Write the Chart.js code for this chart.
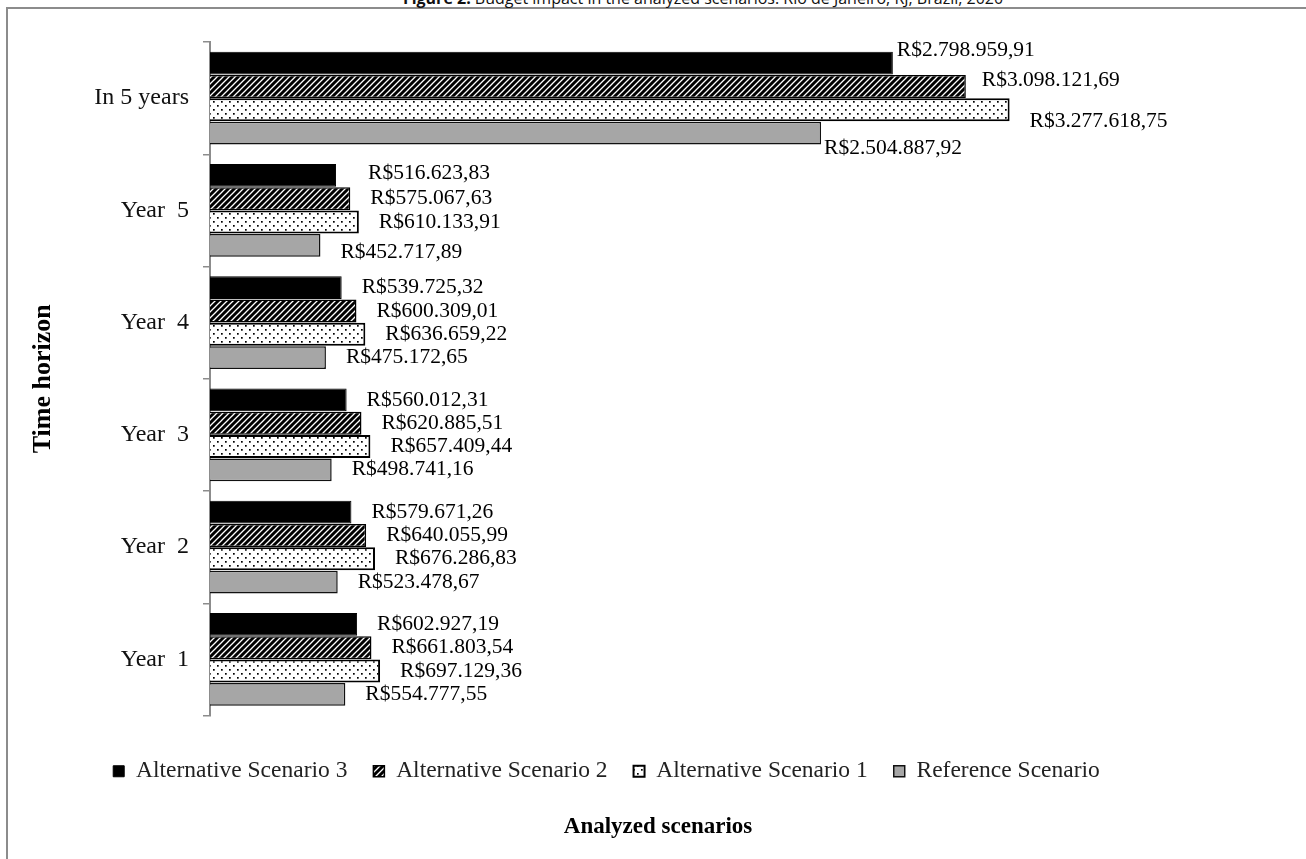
<!DOCTYPE html>
<html>
<head>
<meta charset="utf-8">
<script src="https://cdn.jsdelivr.net/npm/chart.js@4"></script>
<style>
  body { margin: 0; background: #fff; }
  #wrap { position: relative; width: 1306px; height: 859px; overflow: hidden; }
  #frame { position: absolute; left: 6px; top: 7px; width: 1310px; height: 860px;
    border-top: 2px solid #8c8c8c; border-left: 2px solid #8c8c8c; }
  #fig { position: absolute; top: -12px; left: 0; width: 1406px; text-align: center;
    font: 16px "Open Sans", sans-serif; line-height: 20px; color: #111; white-space: nowrap; }
  #xtitle { position: absolute; left: 538px; width: 240px; top: 813px; text-align: center;
    font: bold 23px "Liberation Serif", serif; color: #000; }
  canvas { position: absolute; left: 0; top: 0; }
</style>
</head>
<body>
<div id="wrap">
  <div id="frame"></div>
  <div id="fig"><b>Figure 2.</b> Budget impact in the analyzed scenarios. Rio de Janeiro, RJ, Brazil, 2020</div>
  <canvas id="myChart" width="1306" height="859"></canvas>
  <div id="xtitle">Analyzed scenarios</div>
</div>
<script>
var periods = ["In 5 years", "Year  5", "Year  4", "Year  3", "Year  2", "Year  1"];
var alt3 = [2798959.91, 516623.83, 539725.32, 560012.31, 579671.26, 602927.19];
var alt2 = [3098121.69, 575067.63, 600309.01, 620885.51, 640055.99, 661803.54];
var alt1 = [3277618.75, 610133.91, 636659.22, 657409.44, 676286.83, 697129.36];
var ref = [2504887.92, 452717.89, 475172.65, 498741.16, 523478.67, 554777.55];

// fills
function makeHatch() {
  var c = document.createElement("canvas");
  c.width = 6; c.height = 6;
  var x = c.getContext("2d");
  x.fillStyle = "#000";
  x.fillRect(0, 0, 6, 6);
  x.strokeStyle = "#fff";
  x.lineWidth = 1.3;
  x.beginPath();
  x.moveTo(-3, 3); x.lineTo(3, -3);
  x.moveTo(0, 6); x.lineTo(6, 0);
  x.moveTo(3, 9); x.lineTo(9, 3);
  x.stroke();
  return x.createPattern(c, "repeat");
}
function makeDots() {
  var c = document.createElement("canvas");
  c.width = 8; c.height = 8;
  var x = c.getContext("2d");
  x.fillStyle = "#fff";
  x.fillRect(0, 0, 8, 8);
  x.fillStyle = "#000";
  x.fillRect(1, 1, 1.7, 1.7);
  x.fillRect(5, 5, 1.7, 1.7);
  return x.createPattern(c, "repeat");
}

function brl(v) {
  var p = v.toFixed(2).split(".");
  return "R$" + p[0].replace(/\B(?=(\d{3})+(?!\d))/g, ".") + "," + p[1];
}

// some labels were moved by hand in the original (by category, then dataset)
var labelShift = {
  0: [[-16, -13], [-4, -6], [0, 12], [-17, 15]],
  1: [[12, -2], [0, 0], [0, 0], [0, 7]]
};

var valueLabels = {
  id: "valueLabels",
  afterDatasetsDraw: function(chart) {
    var ctx = chart.ctx;
    ctx.save();
    ctx.font = "21.5px 'Liberation Serif', serif";
    ctx.fillStyle = "#000";
    ctx.textBaseline = "middle";
    ctx.textAlign = "left";
    chart.data.datasets.forEach(function(ds, i) {
      chart.getDatasetMeta(i).data.forEach(function(bar, j) {
        var s = labelShift[j] ? labelShift[j][i] : [0, 0];
        ctx.fillText(brl(ds.data[j]), bar.x + 20 + s[0], bar.y + s[1]);
      });
    });
    ctx.restore();
  }
};

new Chart("myChart", {
  type: "bar",
  data: {
    labels: periods,
    datasets: [
      { label: "Alternative Scenario 3", data: alt3, backgroundColor: "#000", borderColor: "#000", borderWidth: 1 },
      { label: "Alternative Scenario 2", data: alt2, backgroundColor: makeHatch(), borderColor: "#000", borderWidth: 1.5 },
      { label: "Alternative Scenario 1", data: alt1, backgroundColor: makeDots(), borderColor: "#000", borderWidth: 2 },
      { label: "Reference Scenario", data: ref, backgroundColor: "#a6a6a6", borderColor: "#111", borderWidth: 1.5 }
    ]
  },
  options: {
    indexAxis: "y",
    responsive: false,
    animation: false,
    categoryPercentage: 0.83,
    barPercentage: 0.98,
    layout: { padding: { top: 42, left: 28, right: 121, bottom: 66 } },
    scales: {
      x: {
        min: 0,
        max: 3996500,
        grid: { display: false },
        border: { display: false },
        ticks: { display: false },
        afterFit: function(s) { s.height = 18; }
      },
      y: {
        afterFit: function(s) { s.width = 182; },
        grid: { drawOnChartArea: false, color: "#8c8c8c", lineWidth: 1.5, tickLength: 7 },
        border: { color: "#8c8c8c", width: 2 },
        ticks: { color: "#111", padding: 14, font: { family: "Liberation Serif", size: 24 } },
        title: {
          display: true,
          text: "Time horizon",
          color: "#000",
          padding: 0,
          font: { family: "Liberation Serif", size: 26, weight: "bold" }
        }
      }
    },
    plugins: {
      legend: {
        position: "bottom",
        labels: {
          boxWidth: 11,
          boxHeight: 11,
          padding: 26,
          color: "#222",
          font: { family: "Liberation Serif", size: 23.5 }
        }
      },
      tooltip: { enabled: false }
    }
  },
  plugins: [valueLabels]
});
</script>
</body>
</html>
